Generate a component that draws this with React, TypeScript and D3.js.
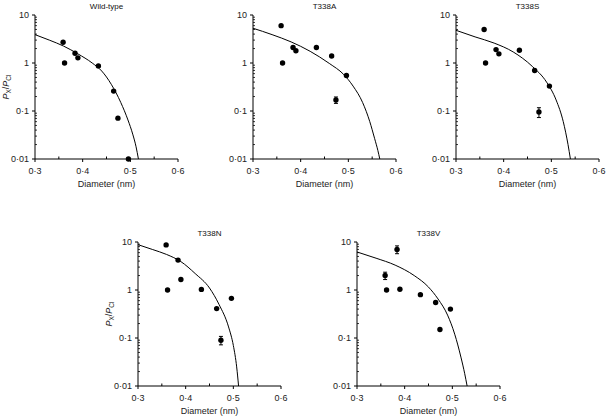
import React from 'react';
import * as d3 from 'd3';

// ---- data ----
const diameters = [0.359, 0.362, 0.384, 0.39, 0.433, 0.465, 0.474, 0.496];

const wildType = [2.7, 1.0, 1.6, 1.28, 0.87, 0.26, 0.071, 0.01];
const wildTypeErr = [0, 0, 0, 0, 0, 0, 0, 0];
const t338A = [6.0, 1.0, 2.1, 1.8, 2.1, 1.4, 0.17, 0.55];
const t338AErr = [0, 0, 0, 0, 0, 0, 0.026, 0];
const t338S = [5.0, 1.0, 1.9, 1.55, 1.85, 0.7, 0.095, 0.33];
const t338SErr = [0, 0, 0, 0, 0, 0, 0.022, 0];
const t338N = [8.7, 1.0, 4.2, 1.65, 1.03, 0.41, 0.09, 0.67];
const t338NErr = [0, 0, 0, 0, 0, 0, 0.018, 0];
const t338V = [2.0, 1.0, 7.0, 1.04, 0.8, 0.55, 0.15, 0.4];
const t338VErr = [0.35, 0, 1.3, 0, 0, 0, 0, 0];

const wtCurveX = [0.3, 0.33, 0.36, 0.39, 0.42, 0.44, 0.46, 0.48, 0.495, 0.505, 0.512, 0.517];
const wtCurveY = [3.9, 3.0, 2.25, 1.55, 1.0, 0.68, 0.36, 0.15, 0.065, 0.033, 0.018, 0.01];
const aCurveX = [0.3, 0.34, 0.38, 0.42, 0.46, 0.49, 0.51, 0.53, 0.545, 0.555, 0.562, 0.566];
const aCurveY = [5.3, 3.9, 2.75, 1.75, 0.98, 0.58, 0.33, 0.15, 0.06, 0.027, 0.015, 0.01];
const sCurveX = [0.3, 0.34, 0.38, 0.42, 0.46, 0.49, 0.51, 0.525, 0.535, 0.54];
const sCurveY = [4.8, 3.5, 2.6, 1.7, 0.85, 0.4, 0.17, 0.06, 0.02, 0.01];
const nCurveX = [0.3, 0.33, 0.36, 0.39, 0.42, 0.45, 0.47, 0.49, 0.5, 0.507, 0.511];
const nCurveY = [8.8, 7.0, 5.5, 3.9, 2.2, 1.1, 0.5, 0.17, 0.07, 0.025, 0.01];
const vCurveX = [0.3, 0.34, 0.38, 0.42, 0.45, 0.47, 0.49, 0.505, 0.518, 0.526, 0.531];
const vCurveY = [6.2, 4.6, 3.3, 2.0, 1.15, 0.65, 0.3, 0.12, 0.04, 0.018, 0.01];

const xTickValues = [0.3, 0.35, 0.4, 0.45, 0.5, 0.55, 0.6];
const xTickLabels = ['0·3', '', '0·4', '', '0·5', '', '0·6'];
const yTickValues = [0.01, 0.1, 1, 10];
const yTickLabels = ['0·01', '0·1', '1', '10'];

const titles = ['Wild-type', 'T338A', 'T338S', 'T338N', 'T338V'];

// ---- layout ----
const W = 609;
const H = 420;
const PW = 143;
const PH = 144;
const FONT = '"Liberation Sans", Arial, Helvetica, sans-serif';

const panels = [
  { title: titles[0], values: wildType, errors: wildTypeErr, cx: wtCurveX, cy: wtCurveY, left: 35, top: 15, yLabel: true },
  { title: titles[1], values: t338A, errors: t338AErr, cx: aCurveX, cy: aCurveY, left: 253, top: 15, yLabel: false },
  { title: titles[2], values: t338S, errors: t338SErr, cx: sCurveX, cy: sCurveY, left: 456, top: 15, yLabel: false },
  { title: titles[3], values: t338N, errors: t338NErr, cx: nCurveX, cy: nCurveY, left: 138, top: 242, yLabel: true },
  { title: titles[4], values: t338V, errors: t338VErr, cx: vCurveX, cy: vCurveY, left: 357, top: 242, yLabel: false },
];

function Panel({ p }: { p: any }) {
  const x = d3.scaleLinear().domain([0.3, 0.6]).range([p.left, p.left + PW]);
  const y = d3.scaleLog().domain([0.01, 10]).range([p.top + PH, p.top]);
  const line = d3
    .line<[number, number]>()
    .x((d) => x(d[0]))
    .y((d) => y(d[1]))
    .curve(d3.curveMonotoneX);
  const curvePts: [number, number][] = p.cx.map((v: number, i: number) => [v, p.cy[i]]);
  const bottom = p.top + PH;

  const minorY: number[] = [];
  [0.01, 0.1, 1].forEach((dec) => {
    for (let k = 2; k <= 9; k++) minorY.push(dec * k);
  });

  return (
    <g>
      <text x={p.left + PW / 2} y={p.top - 6} textAnchor="middle" fontSize={8} fontFamily={FONT} fill="#111">
        {p.title}
      </text>
      {/* axes */}
      <line x1={p.left} x2={p.left} y1={p.top} y2={bottom} stroke="#000" strokeWidth={1} />
      <line x1={p.left} x2={p.left + PW} y1={bottom} y2={bottom} stroke="#000" strokeWidth={1} />
      {/* x ticks */}
      {xTickValues.map((v, i) => {
        const major = xTickLabels[i] !== '';
        return (
          <g key={'xt' + i}>
            <line
              x1={x(v)}
              x2={x(v)}
              y1={bottom}
              y2={major ? bottom + 3 : bottom - 2.5}
              stroke="#000"
              strokeWidth={1}
            />
            {major && (
              <text x={x(v)} y={bottom + 15} textAnchor="middle" fontSize={9} fontFamily={FONT} fill="#222">
                {xTickLabels[i]}
              </text>
            )}
          </g>
        );
      })}
      {/* y ticks */}
      {yTickValues.map((v, i) => (
        <g key={'yt' + i}>
          <line x1={p.left - 3} x2={p.left} y1={y(v)} y2={y(v)} stroke="#000" strokeWidth={1} />
          <text x={p.left - 6} y={y(v)} dy="0.35em" textAnchor="end" fontSize={9} fontFamily={FONT} fill="#222">
            {yTickLabels[i]}
          </text>
        </g>
      ))}
      {minorY.map((v, i) => (
        <line key={'ym' + i} x1={p.left} x2={p.left + 2} y1={y(v)} y2={y(v)} stroke="#000" strokeWidth={0.8} />
      ))}
      <text x={p.left + PW / 2} y={bottom + 28} textAnchor="middle" fontSize={9} fontFamily={FONT} fill="#222">
        Diameter (nm)
      </text>
      {p.yLabel && (
        <text
          transform={`translate(${p.left - 26},${p.top + PH / 2}) rotate(-90)`}
          textAnchor="middle"
          fontSize={9}
          fontFamily={FONT}
          fill="#222"
        >
          <tspan fontStyle="italic">P</tspan>
          <tspan fontSize={6.5} dy={2}>X</tspan>
          <tspan dy={-2}>/</tspan>
          <tspan fontStyle="italic">P</tspan>
          <tspan fontSize={6.5} dy={2}>Cl</tspan>
        </text>
      )}
      {/* fit curve */}
      <path d={line(curvePts) || ''} fill="none" stroke="#000" strokeWidth={1} />
      {/* error bars */}
      {diameters.map((d, i) => {
        const e = p.errors[i];
        if (!e) return null;
        const v = p.values[i];
        const y1 = y(v + e);
        const y2 = y(Math.max(v - e, 0.0101));
        return (
          <g key={'e' + i}>
            <line x1={x(d)} x2={x(d)} y1={y1} y2={y2} stroke="#000" strokeWidth={1} />
            <line x1={x(d) - 2} x2={x(d) + 2} y1={y1} y2={y1} stroke="#000" strokeWidth={1} />
            <line x1={x(d) - 2} x2={x(d) + 2} y1={y2} y2={y2} stroke="#000" strokeWidth={1} />
          </g>
        );
      })}
      {/* points */}
      {diameters.map((d, i) => (
        <circle key={'p' + i} cx={x(d)} cy={y(p.values[i])} r={2.7} fill="#000" />
      ))}
    </g>
  );
}

export default function App() {
  return (
    <svg
      width={W}
      height={H}
      viewBox={`0 0 ${W} ${H}`}
      style={{ position: 'absolute', left: 0, top: 0, background: '#fff' }}
    >
      <rect x={0} y={0} width={W} height={H} fill="#fff" />
      {panels.map((p, i) => (
        <Panel key={i} p={p} />
      ))}
    </svg>
  );
}
